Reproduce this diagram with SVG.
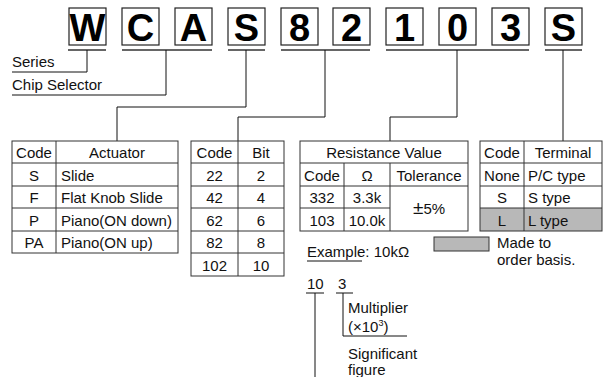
<svg xmlns="http://www.w3.org/2000/svg" width="606" height="377" viewBox="0 0 606 377">
<style>
.box{fill:#fff;stroke:#222;stroke-width:1.2}
.big{font-family:"Liberation Sans",Arial,sans-serif;font-weight:bold;font-size:38px;text-anchor:middle;fill:#000}
.ul{stroke:#666;stroke-width:2;fill:none}
.ln{stroke:#111;stroke-width:1;fill:none}
.tb{stroke:#333;stroke-width:1;fill:none}
.t{font-family:"Liberation Sans",Arial,sans-serif;font-size:15px;fill:#111}
.c{text-anchor:middle}
.gray{fill:#b8b8b8}
</style>
<g id="code-chars">
<g id="ch-W"><rect class="box" x="69" y="8" width="37" height="37"/><text class="big" x="87.5" y="41">W</text></g>
<g id="ch-C"><rect class="box" x="122" y="8" width="37" height="37"/><text class="big" x="140.5" y="41">C</text></g>
<g id="ch-A"><rect class="box" x="175" y="8" width="37" height="37"/><text class="big" x="193.5" y="41">A</text></g>
<g id="ch-S1"><rect class="box" x="228" y="8" width="37" height="37"/><text class="big" x="246.5" y="41">S</text></g>
<g id="ch-8"><rect class="box" x="281" y="8" width="37" height="37"/><text class="big" x="299.5" y="41">8</text></g>
<g id="ch-2"><rect class="box" x="333" y="8" width="37" height="37"/><text class="big" x="351.5" y="41">2</text></g>
<g id="ch-1"><rect class="box" x="386" y="8" width="37" height="37"/><text class="big" x="404.5" y="41">1</text></g>
<g id="ch-0"><rect class="box" x="439" y="8" width="37" height="37"/><text class="big" x="457.5" y="41">0</text></g>
<g id="ch-3"><rect class="box" x="492" y="8" width="37" height="37"/><text class="big" x="510.5" y="41">3</text></g>
<g id="ch-S2"><rect class="box" x="545" y="8" width="37" height="37"/><text class="big" x="563.5" y="41">S</text></g>
</g>
<g id="connectors">
<path class="ul" d="M68 50H106M122 50H212M228 50H265M281 50H370M386 50H529M545 50H582"/>
<path class="ln" d="M87 50V72H12"/>
<path class="ln" d="M166 50V95H12"/>
<path class="ln" d="M246 50V107H117V141"/>
<path class="ln" d="M325 50V117H238V141"/>
<path class="ln" d="M457 50V117H390V141"/>
<path class="ln" d="M563 50V141"/>
<path class="ln" d="M307 261H362"/>
<path class="ln" d="M306 293H324M336 293H353"/>
<path class="ln" d="M315 293V377"/>
<path class="ln" d="M343 293V336H407"/>
</g>
<g id="label-series"><text class="t" x="12" y="67">Series</text></g>
<g id="label-chip"><text class="t" x="12" y="90">Chip Selector</text></g>
<g id="table-actuator">
<rect class="tb" x="12" y="141" width="166" height="112"/>
<path class="tb" d="M56 141V253M12 163H178M12 186H178M12 208H178M12 231H178"/>
<text class="t c" x="34" y="158">Code</text><text class="t c" x="117" y="158">Actuator</text>
<text class="t c" x="34" y="181">S</text><text class="t" x="61" y="181">Slide</text>
<text class="t c" x="34" y="203">F</text><text class="t" x="61" y="203">Flat Knob Slide</text>
<text class="t c" x="34" y="226">P</text><text class="t" x="61" y="226">Piano(ON down)</text>
<text class="t c" x="34" y="248">PA</text><text class="t" x="61" y="248">Piano(ON up)</text>
</g>
<g id="table-bit">
<rect class="tb" x="191" y="141" width="93" height="135"/>
<path class="tb" d="M238 141V276M191 163H284M191 186H284M191 208H284M191 231H284M191 253H284"/>
<text class="t c" x="214.5" y="158">Code</text><text class="t c" x="261" y="158">Bit</text>
<text class="t c" x="214.5" y="181">22</text><text class="t c" x="261" y="181">2</text>
<text class="t c" x="214.5" y="203">42</text><text class="t c" x="261" y="203">4</text>
<text class="t c" x="214.5" y="226">62</text><text class="t c" x="261" y="226">6</text>
<text class="t c" x="214.5" y="248">82</text><text class="t c" x="261" y="248">8</text>
<text class="t c" x="214.5" y="271">102</text><text class="t c" x="261" y="271">10</text>
</g>
<g id="table-resistance">
<rect class="tb" x="300" y="141" width="168" height="90"/>
<path class="tb" d="M300 163H468M300 186H468M300 208H390M344 163V231M390 163V231"/>
<text class="t c" x="384" y="158">Resistance Value</text>
<text class="t c" x="322" y="181">Code</text><text class="t c" x="367" y="181">Ω</text><text class="t c" x="429" y="181">Tolerance</text>
<text class="t c" x="322" y="203">332</text><text class="t c" x="367" y="203">3.3k</text>
<text class="t c" x="322" y="226">103</text><text class="t c" x="367" y="226">10.0k</text>
<text class="t c" x="429" y="214"><tspan font-size="19">±</tspan>5%</text>
</g>
<g id="table-terminal">
<rect class="gray" x="480" y="208" width="122" height="23"/>
<rect class="tb" x="480" y="141" width="122" height="90"/>
<path class="tb" d="M524 141V231M480 163H602M480 186H602M480 208H602"/>
<text class="t c" x="502" y="158">Code</text><text class="t c" x="563" y="158">Terminal</text>
<text class="t c" x="502" y="181">None</text><text class="t" x="528" y="181">P/C type</text>
<text class="t c" x="502" y="203">S</text><text class="t" x="528" y="203">S type</text>
<text class="t c" x="502" y="226">L</text><text class="t" x="528" y="226">L type</text>
</g>
<g id="legend">
<rect class="gray" x="434" y="237" width="55" height="14" stroke="#333" stroke-width="1"/>
<text class="t" x="497" y="248">Made to</text>
<text class="t" x="497" y="265">order basis.</text>
</g>
<g id="example">
<text class="t" x="307" y="257">Example: 10kΩ</text>
<text class="t" x="307" y="289">10</text>
<text class="t" x="338" y="289">3</text>
<text class="t" x="348" y="313">Multiplier</text>
<text class="t" x="348" y="332">(×10<tspan font-size="9" dy="-6">3</tspan><tspan dy="6">)</tspan></text>
<text class="t" x="348" y="359">Significant</text>
<text class="t" x="348" y="375">figure</text>
</g>
</svg>
